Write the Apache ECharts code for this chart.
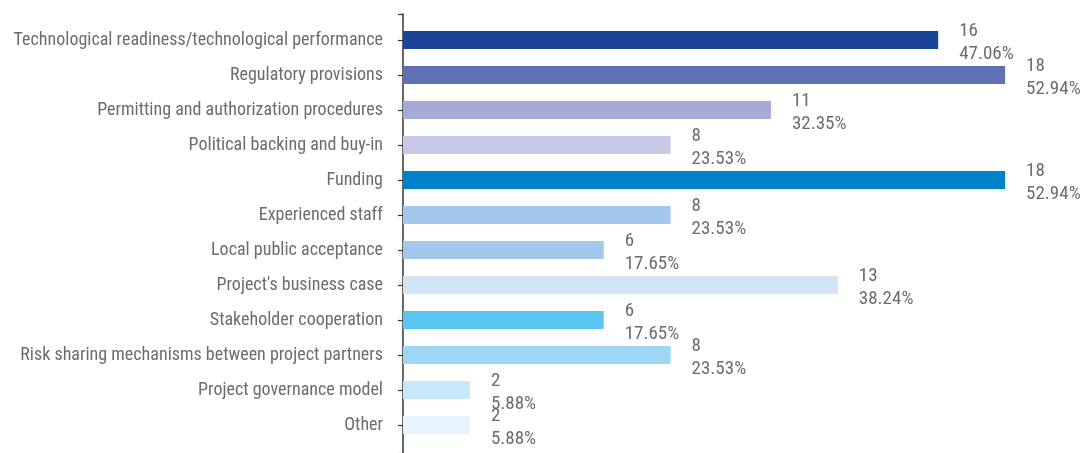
<!DOCTYPE html>
<html>
<head>
<meta charset="utf-8">
<script src="https://cdn.jsdelivr.net/npm/echarts@6/dist/echarts.min.js"></script>
<style>
  html, body { margin: 0; padding: 0; background: #fff; }
  #main { width: 1080px; height: 453px; }
</style>
</head>
<body>
<div id="main"></div>
<script>
var categories = [
    'Technological readiness/technological performance',
    'Regulatory provisions',
    'Permitting and authorization procedures',
    'Political backing and buy-in',
    'Funding',
    'Experienced staff',
    'Local public acceptance',
    "Project's business case",
    'Stakeholder cooperation',
    'Risk sharing mechanisms between project partners',
    'Project governance model',
    'Other'
];
var counts = [16, 18, 11, 8, 18, 8, 6, 13, 6, 8, 2, 2];
var percents = ['47.06%', '52.94%', '32.35%', '23.53%', '52.94%', '23.53%',
                '17.65%', '38.24%', '17.65%', '23.53%', '5.88%', '5.88%'];
var barColors = ['#194497', '#6070b4', '#a5aad7', '#c8c9e7', '#0082ca', '#a4c8ed',
                 '#a4c8ed', '#d2e3f5', '#5ac5f1', '#9ed7f6', '#c9e7fa', '#e6f3fc'];

var font = '"Roboto Condensed", sans-serif';
var textColor = '#6b6c6f';

var myChart = echarts.init(document.getElementById('main'));

var option = {
    animation: false,
    grid: [
        { left: 403, right: 8, top: 22.5, bottom: 10.5, containLabel: false, outerBoundsMode: 'none' },
        { left: 403, right: 8, top: 14, bottom: 0, containLabel: false, outerBoundsMode: 'none' }
    ],
    xAxis: [
        { type: 'value', gridIndex: 0, min: 0, max: 20, show: false },
        { type: 'value', gridIndex: 1, min: 0, max: 1, show: false }
    ],
    yAxis: [
        {
            type: 'category',
            gridIndex: 0,
            inverse: true,
            data: categories,
            axisLine: { show: false },
            axisTick: { show: true, alignWithLabel: true, length: 5,
                        lineStyle: { color: '#333', width: 1.2 } },
            axisLabel: { margin: 20, fontFamily: font, fontSize: 18, color: textColor }
        },
        {
            // plain vertical axis line spanning the full height
            type: 'value',
            gridIndex: 1,
            min: 0, max: 1, interval: 1,
            axisLine: { show: true, lineStyle: { color: '#333', width: 1.5 } },
            axisTick: { show: true, length: 5, lineStyle: { color: '#333', width: 1.2 } },
            axisLabel: { show: false },
            splitLine: { show: false }
        }
    ],
    series: [
        {
            type: 'bar',
            xAxisIndex: 0,
            yAxisIndex: 0,
            barWidth: 18,
            data: counts.map(function (v, i) {
                return { value: v, itemStyle: { color: barColors[i] } };
            }),
            label: {
                show: true,
                position: 'right',
                distance: 21,
                offset: [0, 3],
                fontFamily: font,
                fontSize: 19,
                lineHeight: 23,
                color: textColor,
                formatter: function (p) {
                    return p.value + '\n' + percents[p.dataIndex];
                }
            }
        }
    ]
};

myChart.setOption(option);
</script>
</body>
</html>
